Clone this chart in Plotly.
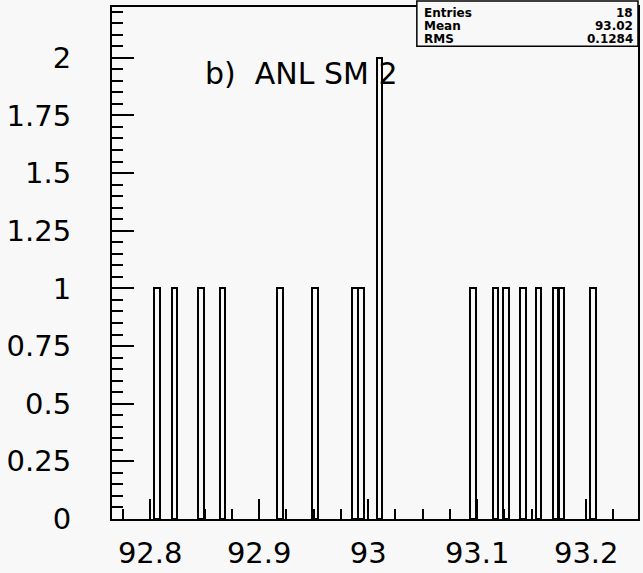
import plotly.graph_objects as go

# ---- data ----
bin_centers = [92.8064, 92.8224, 92.8466, 92.8662, 92.9192, 92.9511, 92.9877, 92.9936,
               93.0105, 93.0963, 93.1169, 93.1265, 93.1420, 93.1562, 93.1717, 93.1772, 93.2064]
counts = [1, 1, 1, 1, 1, 1, 1, 1, 2, 1, 1, 1, 1, 1, 1, 1, 1]
x_tick_vals = [92.8, 92.9, 93.0, 93.1, 93.2]
x_tick_text = ["92.8", "92.9", "93", "93.1", "93.2"]
y_tick_vals = [0, 0.25, 0.5, 0.75, 1, 1.25, 1.5, 1.75, 2]
y_tick_text = ["0", "0.25", "0.5", "0.75", "1", "1.25", "1.5", "1.75", "2"]
stat_names = ["Entries", "Mean", "RMS"]
stat_values = ["18", "93.02", "0.1284"]
label_text = "b)  ANL SM 2"

BIN_W = 0.005
BG = "#f8f8f8"
FONT = "DejaVu Sans"

fig = go.Figure()
fig.add_trace(go.Bar(
    x=bin_centers, y=counts, width=BIN_W,
    marker=dict(color="rgba(0,0,0,0)", line=dict(color="black", width=2)),
    showlegend=False, hoverinfo="skip",
))

fig.update_layout(
    width=643, height=573,
    margin=dict(l=112, r=3, t=7, b=45),
    paper_bgcolor=BG, plot_bgcolor=BG,
    font=dict(family=FONT, color="black"),
    bargap=0,
)

fig.update_xaxes(
    range=[92.765, 93.2475],
    tickvals=x_tick_vals, ticktext=x_tick_text,
    ticks="inside", ticklen=20, tickwidth=1.5, tickcolor="black",
    minor=dict(dtick=0.025, tick0=92.8, ticks="inside", ticklen=10, tickwidth=1.5, tickcolor="black"),
    showline=True, linecolor="black", linewidth=2, mirror=True,
    showgrid=False, zeroline=False,
    tickfont=dict(size=29, family=FONT),
    ticklabelstandoff=7,
)
fig.update_yaxes(
    range=[0, 2.22],
    tickvals=y_tick_vals, ticktext=y_tick_text,
    ticks="inside", ticklen=22, tickwidth=1.5, tickcolor="black",
    minor=dict(dtick=0.05, tick0=0, ticks="inside", ticklen=11, tickwidth=1.5, tickcolor="black"),
    showline=True, linecolor="black", linewidth=2, mirror=True,
    showgrid=False, zeroline=False,
    tickfont=dict(size=29, family=FONT),
    ticklabelstandoff=33,
)

fig.add_annotation(x=92.8485, y=1.93, xref="x", yref="y", text=label_text,
                   showarrow=False, xanchor="left", yanchor="middle",
                   font=dict(size=30, family=FONT))

# stats box (pixel -> paper conversion)
W, H = 643, 573
L, R, T, B = 112, 3, 7, 45
pw, ph = W - L - R, H - T - B
def px(xp):
    return (xp - L) / pw
def py(yp):
    return (H - B - yp) / ph

fig.add_shape(type="rect", xref="paper", yref="paper",
              x0=px(418), x1=px(640), y0=py(47), y1=py(1),
              line=dict(color="black", width=1.5), fillcolor=BG, layer="above")
for i, (n, v) in enumerate(zip(stat_names, stat_values)):
    yy = py(13 + i * 13.5)
    fig.add_annotation(x=px(423), y=yy, xref="paper", yref="paper", text="<b>%s</b>" % n,
                       showarrow=False, xanchor="left", yanchor="middle",
                       font=dict(size=12, family=FONT))
    fig.add_annotation(x=px(637), y=yy, xref="paper", yref="paper", text="<b>%s</b>" % v,
                       showarrow=False, xanchor="right", yanchor="middle",
                       font=dict(size=12, family=FONT))

fig.write_html("out.html")
